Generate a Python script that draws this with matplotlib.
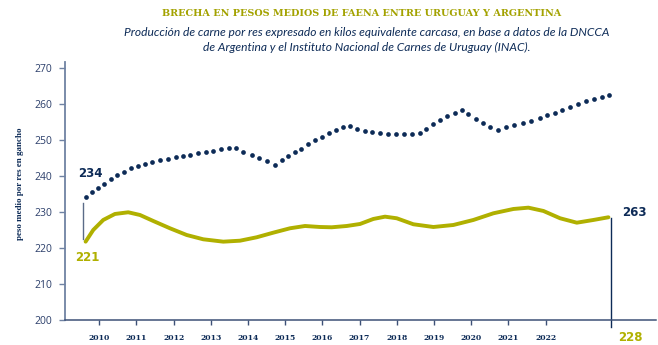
import matplotlib
matplotlib.use("Agg")
import matplotlib.pyplot as plt

# ---- data ----
years = list(range(2010, 2023))
year_labels = [str(y) for y in years]
y_ticks = [200, 210, 220, 230, 240, 250, 260, 270]

navy_x = [2009.634, 2009.796, 2009.957, 2010.134, 2010.307, 2010.484, 2010.664, 2010.845,
          2011.033, 2011.229, 2011.417, 2011.633, 2011.840, 2012.055, 2012.259, 2012.439,
          2012.655, 2012.862, 2013.066, 2013.273, 2013.480, 2013.677, 2013.873, 2014.099,
          2014.303, 2014.519, 2014.726, 2014.906, 2015.075, 2015.264, 2015.433, 2015.613,
          2015.801, 2015.990, 2016.178, 2016.366, 2016.555, 2016.743, 2016.931, 2017.138,
          2017.343, 2017.550, 2017.757, 2017.972, 2018.195, 2018.419, 2018.634, 2018.787,
          2018.983, 2019.172, 2019.360, 2019.559, 2019.747, 2019.917, 2020.124, 2020.312,
          2020.516, 2020.723, 2020.930, 2021.162, 2021.388, 2021.619, 2021.845, 2022.033,
          2022.249, 2022.453, 2022.660, 2022.875, 2023.082, 2023.306, 2023.513, 2023.717]
navy_y = [234.24, 235.47, 236.67, 237.87, 239.10, 240.21, 241.22, 242.16,
          242.89, 243.45, 244.00, 244.48, 244.84, 245.32, 245.68, 245.96,
          246.35, 246.71, 247.07, 247.55, 247.82, 247.74, 246.79, 245.96,
          245.04, 244.12, 243.17, 244.40, 245.60, 246.63, 247.63, 248.83,
          249.97, 250.98, 252.01, 252.93, 253.68, 253.88, 253.12, 252.65,
          252.29, 251.92, 251.73, 251.73, 251.73, 251.81, 251.92, 253.12,
          254.43, 255.55, 256.67, 257.67, 258.42, 257.22, 255.91, 254.80,
          253.68, 252.85, 253.60, 254.32, 254.88, 255.44, 256.11, 256.94,
          257.67, 258.50, 259.34, 260.09, 260.85, 261.49, 261.96, 262.52]

olive_x = [2009.634, 2009.839, 2010.108, 2010.422, 2010.780, 2011.095, 2011.452, 2011.902,
           2012.351, 2012.797, 2013.335, 2013.784, 2014.233, 2014.680, 2015.129, 2015.533,
           2015.936, 2016.251, 2016.654, 2017.012, 2017.370, 2017.684, 2017.999, 2018.446,
           2018.984, 2019.521, 2020.059, 2020.597, 2021.135, 2021.538, 2021.942, 2022.391,
           2022.840, 2023.287, 2023.690]
olive_y = [221.70, 224.96, 227.75, 229.42, 229.89, 229.14, 227.47, 225.43,
           223.56, 222.36, 221.70, 221.97, 222.92, 224.21, 225.43, 226.07,
           225.79, 225.71, 226.07, 226.63, 228.03, 228.67, 228.22, 226.55,
           225.79, 226.35, 227.75, 229.61, 230.81, 231.18, 230.26, 228.22,
           226.99, 227.75, 228.50]

start_navy, start_olive = "234", "221"
end_navy, end_olive = "263", "228"

NAVY = "#0d2b57"
OLIVE = "#b0b000"
TITLE_OLIVE = "#a3a200"
AXIS = "#6f82a3"
TICK = "#2c3f6b"

fig = plt.figure(figsize=(6.58, 3.45), dpi=100)
ax = fig.add_axes([0.0988, 0.0739, 0.8982, 0.7455])
ax.set_xlim(2009.08, 2024.97)
ax.set_ylim(200, 271.7)

ax.plot(olive_x, olive_y, color=OLIVE, lw=2.8, solid_capstyle="round",
        solid_joinstyle="round", zorder=3)
ax.plot(navy_x, navy_y, linestyle="none", marker="o", markersize=3.4,
        color=NAVY, markeredgewidth=0, zorder=4)

# connector lines
ax.plot([2009.577, 2009.577], [222.5, 232.5], color="#5b6b88", lw=1.0, zorder=2)
ax.plot([2023.75, 2023.75], [228.3, 197.9], color=NAVY, lw=1.0, zorder=2, clip_on=False)

# value labels
ax.text(2009.76, 240.7, start_navy, color=NAVY, fontsize=8.5, fontweight="bold",
        ha="center", va="center", family="DejaVu Sans")
ax.text(2009.68, 217.2, start_olive, color=OLIVE, fontsize=8.5, fontweight="bold",
        ha="center", va="center", family="DejaVu Sans")
ax.text(2024.38, 229.7, end_navy, color=NAVY, fontsize=8.5, fontweight="bold",
        ha="center", va="center", family="DejaVu Sans")
ax.text(2024.29, 195.1, end_olive, color=OLIVE, fontsize=8.5, fontweight="bold",
        ha="center", va="center", family="DejaVu Sans", clip_on=False)

# axes styling
for s in ["top", "right"]:
    ax.spines[s].set_visible(False)
ax.spines["left"].set_color(AXIS)
ax.spines["left"].set_linewidth(1.3)
ax.spines["bottom"].set_color("#3d5177")
ax.spines["bottom"].set_linewidth(1.1)

ax.set_yticks(y_ticks)
ax.set_yticklabels([str(v) for v in y_ticks])
ax.tick_params(axis="y", length=4, width=1, color=AXIS, labelsize=7.5,
               labelcolor=TICK, pad=5)
ax.set_xticks(years)
ax.set_xticklabels(year_labels)
ax.tick_params(axis="x", length=3.5, width=1, color="#3d5177", labelsize=5.5,
               labelcolor=NAVY, pad=7)
for lab in ax.get_xticklabels():
    lab.set_fontweight("bold")
    lab.set_family("DejaVu Serif")
for lab in ax.get_yticklabels():
    lab.set_family("Open Sans")

ax.set_ylabel("peso medio por res en gancho", fontsize=6.5, fontweight="bold",
              color=NAVY, family="Liberation Serif")
ax.yaxis.set_label_coords(-0.0694, 0.527)

fig.text(0.549, 0.962, "BRECHA EN PESOS MEDIOS DE FAENA ENTRE URUGUAY Y ARGENTINA",
         ha="center", va="center", fontsize=6.9, fontweight="bold",
         color=TITLE_OLIVE, family="DejaVu Serif")
fig.text(0.558, 0.885,
         "Producción de carne por res expresado en kilos equivalente carcasa, en base a datos de la DNCCA\n"
         "de Argentina y el Instituto Nacional de Carnes de Uruguay (INAC).",
         ha="center", va="center", fontsize=8.65, style="italic", color=NAVY,
         family="Lato", linespacing=1.4)

fig.savefig("out.png", dpi=100)
